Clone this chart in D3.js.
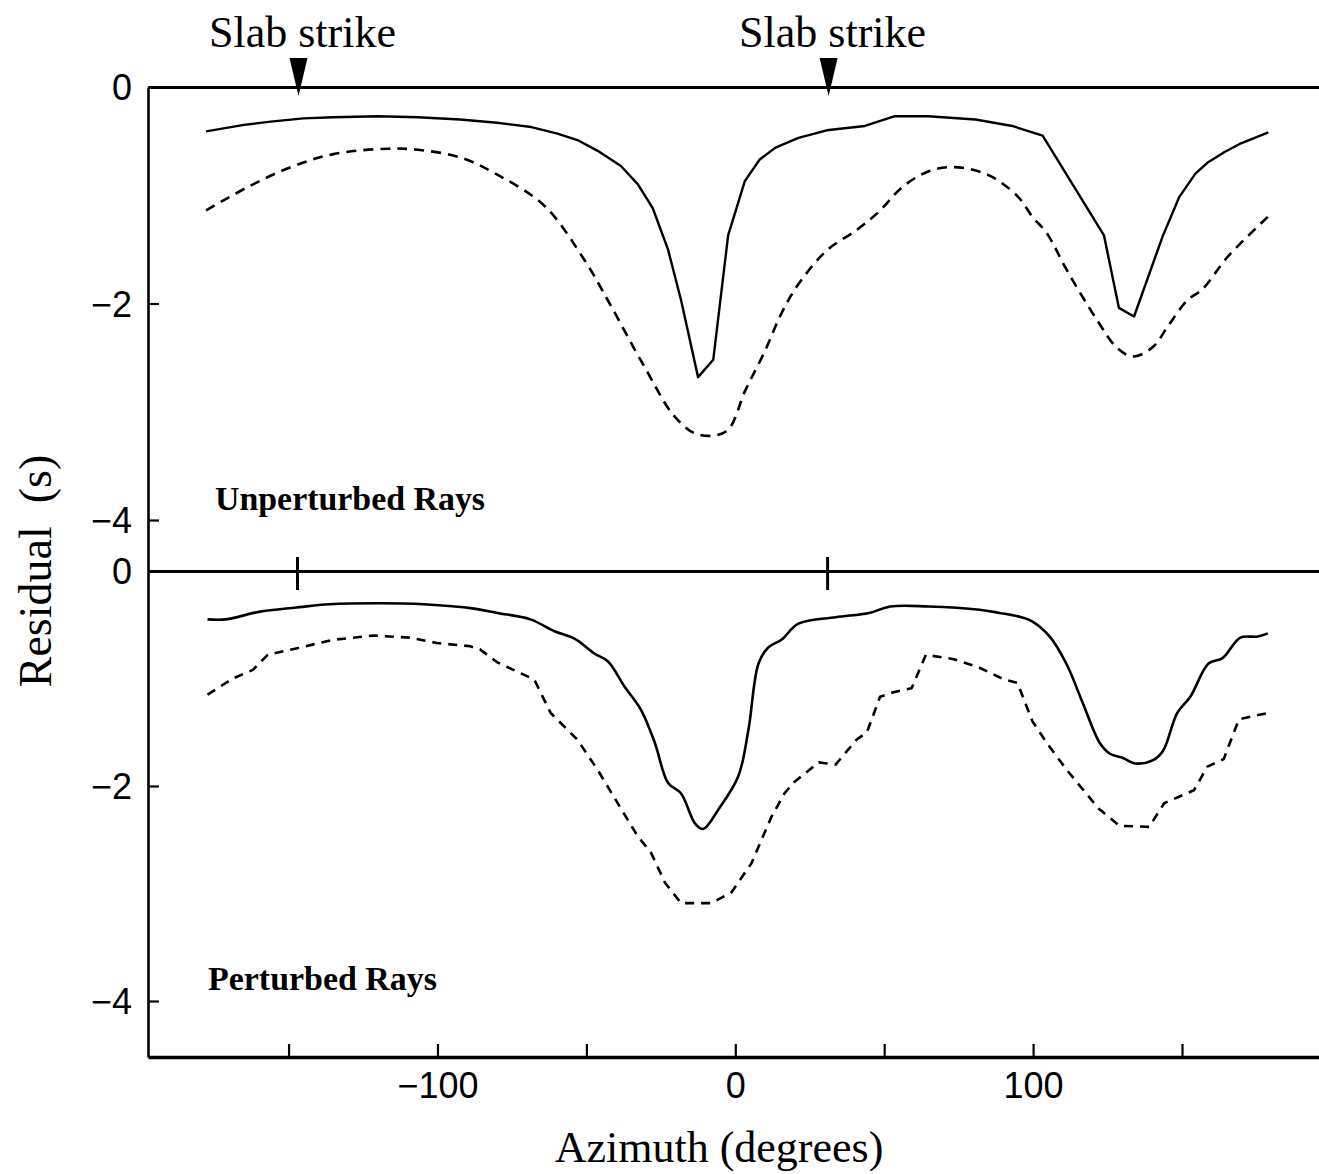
<!DOCTYPE html>
<html>
<head>
<meta charset="utf-8">
<script src="https://cdn.jsdelivr.net/npm/d3@7"></script>
<style>
  html, body { margin: 0; padding: 0; background: #fff; }
  svg { display: block; }
  .tick text { font-family: "Liberation Sans", Arial, sans-serif; font-size: 36px; fill: #000; }
</style>
</head>
<body>
<svg id="chart" width="1319" height="1174"></svg>
<script>
// ---------- data (azimuth in degrees, residual in s) ----------
const topSolidAz  = [-177.7,-165,-156,-145,-135,-120,-106.6,-92.4,-80,-68.5,-59.7,-53,-46.2,-38.4,-32.7,-27.7,-22.6,-18.2,-12.5,-7.4,-2.4,3.2,8.2,13.5,21.2,30.7,43.5,53.6,64.8,80.6,93,103.2,123.8,128.8,133.9,143.5,149,154.5,158.5,164.3,169.8,179];
const topSolidRes = [-0.41,-0.35,-0.32,-0.29,-0.28,-0.27,-0.28,-0.30,-0.33,-0.37,-0.43,-0.49,-0.59,-0.73,-0.90,-1.12,-1.50,-1.97,-2.68,-2.52,-1.37,-0.87,-0.67,-0.56,-0.47,-0.40,-0.36,-0.27,-0.27,-0.30,-0.36,-0.45,-1.37,-2.04,-2.12,-1.38,-1.02,-0.80,-0.70,-0.60,-0.52,-0.42];

const topDashAz  = [-177.7,-163.4,-149.2,-135,-116.7,-106.6,-92.4,-79.9,-64,-50.6,-42.8,-30.4,-20.2,-12.5,-3,3.4,10.1,15.5,21,30.7,40.8,47.9,56.3,64.8,73.4,84.7,94.8,99.8,104.6,111.3,121.4,128.2,133.6,140.3,145.5,151.8,156.8,165.3,178.8];
const topDashRes = [-1.14,-0.92,-0.74,-0.62,-0.57,-0.58,-0.65,-0.81,-1.10,-1.60,-1.97,-2.59,-3.05,-3.21,-3.18,-2.80,-2.43,-2.09,-1.83,-1.51,-1.32,-1.16,-0.92,-0.78,-0.74,-0.81,-1.01,-1.20,-1.35,-1.69,-2.15,-2.41,-2.49,-2.40,-2.20,-1.97,-1.87,-1.57,-1.20];

const botSolidAz  = [-177.2,-171,-160,-147.4,-136.3,-119.4,-104.6,-87.7,-79.9,-68.8,-60.7,-54,-47.2,-42.8,-37.1,-31.7,-27,-22.6,-18.2,-13.5,-10.8,-5.7,1,4.4,7.8,11.1,15.5,21.2,33.7,44.9,52.1,64.8,82,88.7,96.1,99.8,105.6,111.3,116.7,122.4,125.8,130.2,134.2,140.3,143.7,148.4,152.8,158.9,163.6,169.6,175.4,178.8];
const botSolidRes = [-0.45,-0.45,-0.38,-0.34,-0.31,-0.30,-0.31,-0.35,-0.39,-0.45,-0.56,-0.63,-0.77,-0.84,-1.08,-1.29,-1.60,-1.97,-2.07,-2.35,-2.40,-2.22,-1.91,-1.48,-0.86,-0.71,-0.64,-0.49,-0.43,-0.39,-0.33,-0.33,-0.36,-0.39,-0.43,-0.47,-0.61,-0.87,-1.23,-1.60,-1.70,-1.74,-1.79,-1.76,-1.67,-1.32,-1.17,-0.86,-0.81,-0.62,-0.61,-0.58];

const botDashAz  = [-177.2,-168.7,-162,-157,-147.4,-135,-121.5,-109.3,-100.2,-89,-85.7,-79.9,-67.5,-62,-53,-46.2,-39.5,-32.7,-28.3,-23.6,-18.2,-8.1,-1.3,5.4,12.1,16.5,19.5,28,33.7,40.7,44.2,48.6,52.8,59.2,64,73.4,82,90.4,94.7,99.8,104.6,111.3,122,129,139,144,154,158.5,164,169.1,178.9];
const botDashRes = [-1.15,-1.00,-0.92,-0.78,-0.72,-0.64,-0.60,-0.62,-0.67,-0.70,-0.73,-0.85,-1.01,-1.32,-1.57,-1.85,-2.16,-2.47,-2.62,-2.90,-3.09,-3.09,-2.99,-2.72,-2.29,-2.07,-1.97,-1.78,-1.80,-1.57,-1.50,-1.17,-1.13,-1.09,-0.78,-0.82,-0.90,-1.01,-1.04,-1.40,-1.60,-1.85,-2.21,-2.37,-2.38,-2.16,-2.04,-1.82,-1.75,-1.38,-1.32];

const slabStrikeAz = [-147, 31];
const xTickValues = [-150, -100, -50, 0, 50, 100, 150];
const xLabelValues = [-100, 0, 100];
const yTickValues = [0, -2, -4];
const panelLabels = ["Unperturbed Rays", "Perturbed Rays"];
const xTitle = "Azimuth (degrees)";
const yTitle = "Residual  (s)";
const slabText = "Slab strike";

// ---------- scales ----------
const svg = d3.select("#chart");
const x = d3.scaleLinear().domain([-197.2, 196]).range([148, 1319]);
const yTop = d3.scaleLinear().domain([0, -4.471]).range([87, 571]);
const yBot = d3.scaleLinear().domain([0, -4.521]).range([571, 1057]);

const zip = (a, b) => a.map((v, i) => [v, b[i]]);

// ---------- axes ----------
function styleAxis(g, w) {
  g.select(".domain").attr("stroke", "#000").attr("stroke-width", w);
  g.selectAll(".tick line").attr("stroke", "#000").attr("stroke-width", 2.2);
}

// bottom x axis
const xAxis = d3.axisBottom(x)
  .tickValues(xTickValues)
  .tickSizeInner(-13).tickSizeOuter(0).tickPadding(15)
  .tickFormat(d => xLabelValues.includes(d) ? d3.format("d")(d) : "");
const xAxisG = svg.append("g").attr("transform", "translate(0,1057)").call(xAxis).call(g => styleAxis(g, 3.5));

// top border (no ticks)
svg.append("g").attr("transform", "translate(0,87)")
  .call(d3.axisBottom(x).tickValues([]).tickSizeOuter(0)).call(g => styleAxis(g, 3));
// middle border with slab-strike ticks crossing it
svg.append("g").attr("transform", "translate(0,571)")
  .call(d3.axisBottom(x).tickValues([]).tickSizeOuter(0)).call(g => styleAxis(g, 3));
svg.append("g").selectAll("line").data(slabStrikeAz).join("line")
  .attr("x1", d => x(d)).attr("x2", d => x(d))
  .attr("y1", 557).attr("y2", 590)
  .attr("stroke", "#000").attr("stroke-width", 3);

// left y axes
const yAxisTop = d3.axisLeft(yTop).tickValues(yTickValues).tickSizeInner(-11).tickSizeOuter(0).tickPadding(16)
  .tickFormat(d3.format("d"));
const yAxisBot = d3.axisLeft(yBot).tickValues(yTickValues).tickSizeInner(-11).tickSizeOuter(0).tickPadding(16)
  .tickFormat(d3.format("d"));
const yTopG = svg.append("g").attr("transform", "translate(148,0)").call(yAxisTop).call(g => styleAxis(g, 2.6));
const yBotG = svg.append("g").attr("transform", "translate(148,0)").call(yAxisBot).call(g => styleAxis(g, 2.6));
yTopG.selectAll(".tick text").attr("dy", "0.36em");
yBotG.selectAll(".tick text").attr("dy", "0.36em");

// ---------- lines ----------
const lineTopSolid = d3.line().x(d => x(d[0])).y(d => yTop(d[1])).curve(d3.curveLinear);
const lineTopDash  = d3.line().x(d => x(d[0])).y(d => yTop(d[1])).curve(d3.curveCatmullRom.alpha(0.5));
const lineBotSolid = d3.line().x(d => x(d[0])).y(d => yBot(d[1])).curve(d3.curveCatmullRom.alpha(0.5));
const lineBotDash  = d3.line().x(d => x(d[0])).y(d => yBot(d[1])).curve(d3.curveLinear);

svg.append("path").datum(zip(topSolidAz, topSolidRes)).attr("d", lineTopSolid)
  .attr("fill", "none").attr("stroke", "#000").attr("stroke-width", 2.4).attr("stroke-linejoin", "round");
svg.append("path").datum(zip(topDashAz, topDashRes)).attr("d", lineTopDash)
  .attr("fill", "none").attr("stroke", "#000").attr("stroke-width", 2.6).attr("stroke-dasharray", "10,7");
svg.append("path").datum(zip(botSolidAz, botSolidRes)).attr("d", lineBotSolid)
  .attr("fill", "none").attr("stroke", "#000").attr("stroke-width", 2.6).attr("stroke-linejoin", "round");
svg.append("path").datum(zip(botDashAz, botDashRes)).attr("d", lineBotDash)
  .attr("fill", "none").attr("stroke", "#000").attr("stroke-width", 2.6).attr("stroke-dasharray", "9,7");

// ---------- slab strike markers ----------
const markers = svg.append("g");
markers.selectAll("path").data(slabStrikeAz).join("path")
  .attr("d", d => { const cx = x(d) + 1; return `M${cx-9},58 L${cx+9},58 L${cx},96 Z`; })
  .attr("fill", "#000");
markers.selectAll("text").data(slabStrikeAz).join("text")
  .attr("x", d => x(d) + 5).attr("y", 47)
  .attr("text-anchor", "middle")
  .attr("font-family", "'Liberation Serif', 'Times New Roman', serif")
  .attr("font-size", 44)
  .text(slabText);

// ---------- panel labels ----------
const labelPos = [{x: 215, y: 510, w: 270}, {x: 208, y: 990, w: 229}];
svg.append("g").selectAll("text").data(panelLabels).join("text")
  .attr("x", (d, i) => labelPos[i].x).attr("y", (d, i) => labelPos[i].y)
  .attr("font-family", "'Liberation Serif', 'Times New Roman', serif")
  .attr("font-weight", "bold").attr("font-size", 33)
  .attr("textLength", (d, i) => labelPos[i].w).attr("lengthAdjust", "spacingAndGlyphs")
  .text(d => d);

// ---------- axis titles ----------
svg.append("text")
  .attr("x", 719).attr("y", 1162)
  .attr("text-anchor", "middle")
  .attr("font-family", "'Liberation Serif', 'Times New Roman', serif")
  .attr("font-size", 44)
  .text(xTitle);
svg.append("text")
  .attr("transform", "translate(51,571) rotate(-90)")
  .attr("text-anchor", "middle")
  .attr("font-family", "'Liberation Serif', 'Times New Roman', serif")
  .attr("font-size", 46)
  .style("white-space", "pre")
  .text(yTitle);
</script>
</body>
</html>
